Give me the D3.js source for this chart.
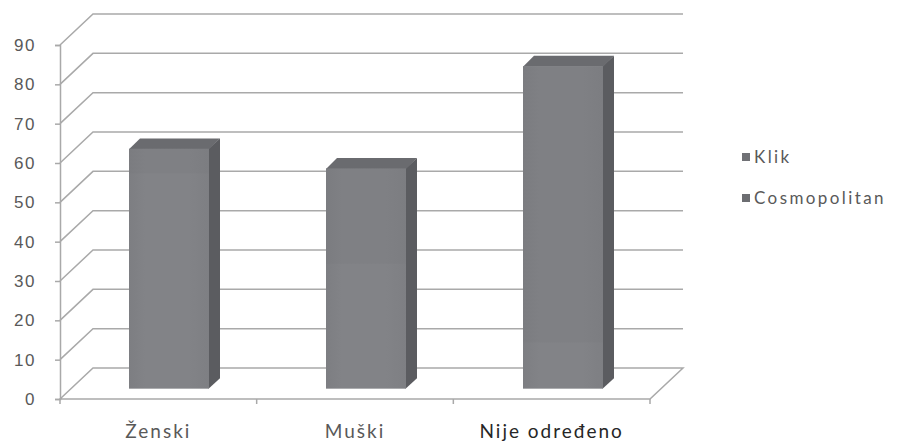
<!DOCTYPE html>
<html>
<head>
<meta charset="utf-8">
<script src="https://cdn.jsdelivr.net/npm/d3@7"></script>
<style>
  html, body { margin: 0; padding: 0; background: #fff; }
  svg { display: block; font-family: Lato, "Open Sans", sans-serif; }
</style>
</head>
<body>
<svg id="chart" width="897" height="444"></svg>
<script>
// Categories and stacked series values (percent)
const categories = ["Ženski", "Muški", "Nije određeno"];
const seriesNames = ["Klik", "Cosmopolitan"];
const klik = [55, 32, 12];
const cosmopolitan = [6, 24, 70];
const yTicks = [0, 10, 20, 30, 40, 50, 60, 70, 80, 90];

const svg = d3.select("#chart");

// Oblique 3D projection: depth offset of the back wall
const depth = { dx: 33, dy: -31 };
const plot = { left: 60, right: 650, top: 45, bottom: 399 };

const x = d3.scaleBand().domain(categories).range([plot.left, plot.right]);
const y = d3.scaleLinear().domain([0, 90]).range([plot.bottom, plot.top]);

const gridColor = "#a9a9a9";
const textColor = "#595959";

// Side wall diagonals and back wall gridlines
const grid = svg.append("g");
yTicks.forEach(t => {
  if (t === 0) return;
  grid.append("path")
    .attr("d", `M${plot.left},${y(t)} L${plot.left + depth.dx},${y(t) + depth.dy} L${plot.right + depth.dx},${y(t) + depth.dy}`)
    .attr("fill", "none").attr("stroke", gridColor).attr("stroke-width", 1.5);
});

// Floor
svg.append("path")
  .attr("d", `M${plot.left},${y(0)} L${plot.left + depth.dx},${y(0) + depth.dy} L${plot.right + depth.dx},${y(0) + depth.dy} L${plot.right},${y(0)} Z`)
  .attr("fill", "none").attr("stroke", gridColor).attr("stroke-width", 1.5);

// Bar shading
const defs = svg.append("defs");
function faceGradient(id, c1, c2, c3) {
  const g = defs.append("linearGradient").attr("id", id).attr("x1", 0).attr("x2", 1).attr("y1", 0).attr("y2", 0);
  g.append("stop").attr("offset", "0%").attr("stop-color", c1);
  g.append("stop").attr("offset", "20%").attr("stop-color", c2);
  g.append("stop").attr("offset", "75%").attr("stop-color", c2);
  g.append("stop").attr("offset", "100%").attr("stop-color", c3);
}
faceGradient("frontKlik", "#7d7e82", "#828387", "#7e7f83");
faceGradient("frontCosmo", "#7b7c80", "#7f8084", "#7c7d81");
const sideColor = "#5b5c60";
const topColor = "#6a6b6f";

// Bars sit between 1/3 and 2/3 of the depth
const f = { dx: depth.dx / 3, dy: depth.dy / 3 };
const barW = 80;

const stacked = categories.map((c, i) => ({
  cat: c,
  segs: [
    { name: seriesNames[0], y0: 0, y1: klik[i], fill: "url(#frontKlik)" },
    { name: seriesNames[1], y0: klik[i], y1: klik[i] + cosmopolitan[i], fill: "url(#frontCosmo)" }
  ]
}));

const bars = svg.append("g");
stacked.forEach(d => {
  const x0 = Math.round(x(d.cat) + x.bandwidth() / 2 - barW / 2 + f.dx);
  const x1 = x0 + barW;
  const total = d.segs[1].y1;
  const yb = y(0) + f.dy;
  const yt = y(total) + f.dy;
  const g = bars.append("g");
  // right side face
  g.append("path")
    .attr("d", `M${x1 - 0.5},${yb} L${x1 + f.dx},${yb + f.dy} L${x1 + f.dx},${yt + f.dy} L${x1 - 0.5},${yt} Z`)
    .attr("fill", sideColor);
  // top face
  g.append("path")
    .attr("d", `M${x0},${yt + 0.5} L${x0 + f.dx},${yt + f.dy} L${x1 + f.dx},${yt + f.dy} L${x1},${yt + 0.5} Z`)
    .attr("fill", topColor);
  // front faces, one per series (slight overlap hides the seam)
  d.segs.forEach((s, k) => {
    const top = y(s.y1) + f.dy;
    const bottom = y(s.y0) + f.dy + (k === 0 ? 0 : 1);
    g.append("rect")
      .attr("x", x0)
      .attr("y", top)
      .attr("width", barW)
      .attr("height", bottom - top)
      .attr("fill", s.fill);
  });
});

// Vertical value axis
const yAxis = svg.append("g").attr("transform", `translate(${plot.left},0)`)
  .call(d3.axisLeft(y).tickValues(yTicks).tickSize(5).tickPadding(8));
yAxis.select(".domain").attr("stroke", gridColor).attr("stroke-width", 1.5);
yAxis.selectAll(".tick line").attr("stroke", gridColor).attr("stroke-width", 1.5);
yAxis.selectAll(".tick text").attr("fill", textColor)
  .style("font-size", "17px").style("letter-spacing", "1.5px")
  .attr("x", -24);

// Category axis ticks along the front of the floor
const xTickPos = [plot.left, ...categories.map(c => x(c) + x.bandwidth())];
svg.append("g").selectAll("line").data(xTickPos).join("line")
  .attr("x1", d => d).attr("x2", d => d)
  .attr("y1", y(0)).attr("y2", y(0) + 5)
  .attr("stroke", gridColor).attr("stroke-width", 1.5);

// Category labels
svg.append("g").selectAll("text").data(categories).join("text")
  .attr("x", d => x(d) + x.bandwidth() / 2)
  .attr("y", 438)
  .attr("text-anchor", "middle")
  .attr("fill", (d, i) => i === 2 ? "#262626" : textColor)
  .style("font-size", "19px").style("letter-spacing", "2px")
  .text(d => d);

// Legend
const legend = svg.append("g").attr("transform", "translate(742,157)");
seriesNames.forEach((name, i) => {
  const row = legend.append("g").attr("transform", `translate(0,${i * 41})`);
  row.append("rect").attr("x", 0).attr("y", -4).attr("width", 8).attr("height", 8)
    .attr("fill", i === 0 ? "#707175" : "#6c6d71");
  row.append("text").attr("x", 12).attr("y", 6)
    .attr("fill", textColor)
    .style("font-size", "17px").style("letter-spacing", "2.4px")
    .text(name);
});
</script>
</body>
</html>
